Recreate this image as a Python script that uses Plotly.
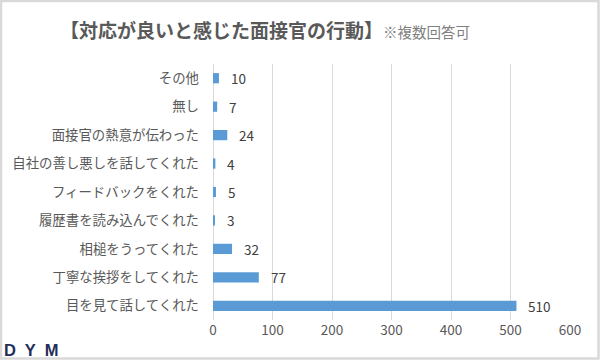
import plotly.graph_objects as go

categories = ["その他", "無し", "面接官の熱意が伝わった", "自社の善し悪しを話してくれた",
              "フィードバックをくれた", "履歴書を読み込んでくれた", "相槌をうってくれた",
              "丁寧な挨拶をしてくれた", "目を見て話してくれた"]
values = [10, 7, 24, 4, 5, 3, 32, 77, 510]
x_ticks = [0, 100, 200, 300, 400, 500, 600]

FONT = "Noto Sans CJK JP"
L, R, T, B = 213, 30, 64, 40
W, H = 600, 360
pw, ph = W - L - R, H - T - B

fig = go.Figure(go.Bar(
    y=categories, x=values, orientation="h",
    marker=dict(color="#5b9bd5", line=dict(width=0)),
    hoverinfo="x+y",
))

for c, v in zip(categories, values):
    fig.add_annotation(x=v, y=c, text=str(v), showarrow=False, xanchor="left",
                       xshift=10, font=dict(family=FONT, size=13.5, color="#404040"))

fig.add_annotation(
    xref="paper", yref="paper",
    x=(58 - L) / pw, y=1 + (T - 29) / ph, xanchor="left", yanchor="middle",
    text="<b>【対応が良いと感じた面接官の行動】</b><span style='font-size:14.5px;color:#7f7f7f'>※複数回答可</span>",
    showarrow=False, font=dict(family=FONT, size=19, color="#595959"))

fig.add_annotation(
    xref="paper", yref="paper",
    x=(2 - L) / pw, y=-(350 - T - ph) / ph, xanchor="left", yanchor="middle",
    text="<b>D  Y  M</b>", showarrow=False,
    font=dict(family="Liberation Sans", size=16.5, color="#1f2d5a"))

fig.add_shape(type="rect", xref="paper", yref="paper",
              x0=(1 - L) / pw, x1=(W - 1.5 - L) / pw,
              y0=-(H - 1.5 - T - ph) / ph, y1=1 + (T - 1) / ph,
              line=dict(color="#d9d9d9", width=2.5), layer="above")

fig.update_layout(
    width=W, height=H, margin=dict(l=L, r=R, t=T, b=B),
    paper_bgcolor="white", plot_bgcolor="white",
    bargap=0.64, showlegend=False,
    font=dict(family=FONT, size=13, color="#595959"),
    xaxis=dict(range=[0, 600], tickvals=x_ticks, showgrid=True, gridcolor="#d9d9d9",
               gridwidth=1, zeroline=True, zerolinecolor="#d9d9d9", zerolinewidth=1,
               showline=False, ticks="", tickfont=dict(family=FONT, size=13.5, color="#595959"),
               fixedrange=True),
    yaxis=dict(autorange="reversed", showgrid=False, showline=False, ticks="",
               ticklabelstandoff=13, tickfont=dict(family=FONT, size=13.4, color="#595959"),
               fixedrange=True),
)

fig.write_html("out.html", config={"displayModeBar": False},
               post_script="document.body.style.margin='0';")
